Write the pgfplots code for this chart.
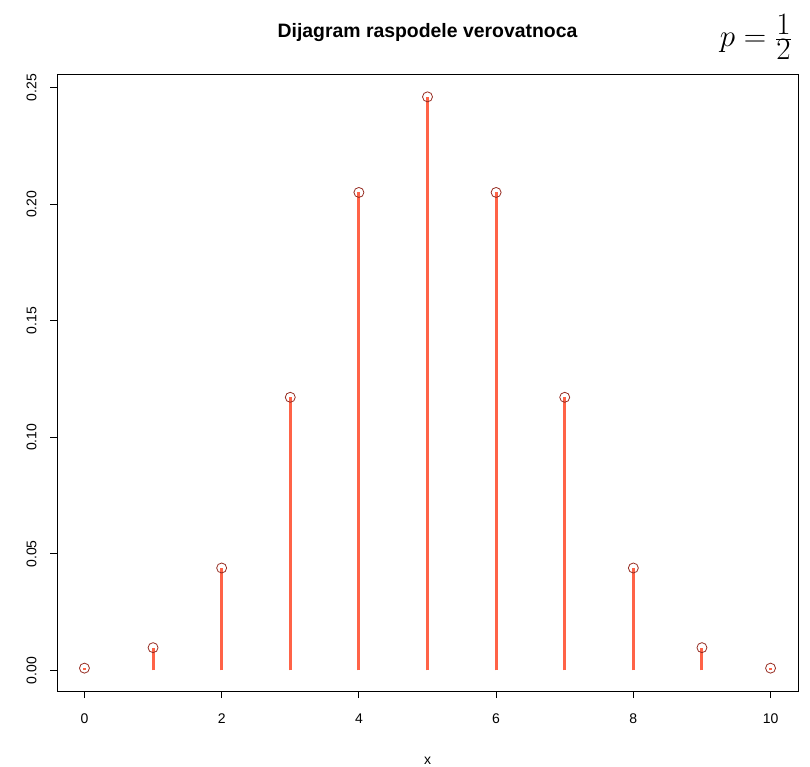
\documentclass[border=0pt]{standalone}
\usepackage{pgfplots}
\pgfplotsset{compat=1.18}
\usepackage{fontspec}
\setmainfont{Liberation Sans}
\definecolor{stemred}{RGB}{255,99,71}
\definecolor{pointred}{RGB}{150,45,35}

% Binomial distribution, n = 10, p = 1/2
\pgfplotstableread{
k   p
0   0.0009765625
1   0.009765625
2   0.0439453125
3   0.1171875
4   0.205078125
5   0.24609375
6   0.205078125
7   0.1171875
8   0.0439453125
9   0.009765625
10  0.0009765625
}\binom

\begin{document}
\begin{tikzpicture}[x=1pt,y=1pt]
\path[use as bounding box] (0,0) rectangle (810,766);
\begin{axis}[
  at={(57pt,75pt)}, anchor=south west,
  scale only axis, width=741pt, height=617pt,
  xmin=-0.4, xmax=10.4,
  ymin=-0.00883, ymax=0.2559,
  axis line style={black, line width=0.9pt},
  tick style={black, line width=0.9pt},
  tick align=outside, major tick length=7pt,
  xtick={0,2,...,10},
  ytick={0,0.05,...,0.25},
  xtick pos=bottom, ytick pos=left,
  font=\fontsize{14}{16}\selectfont,
  /pgf/number format/assume math mode=true,
  yticklabel style={rotate=90, anchor=south, /pgf/number format/fixed, /pgf/number format/zerofill, /pgf/number format/precision=2},
  xticklabel shift=12pt,
  yticklabel shift=10pt,
  scaled y ticks=false,
  title={Dijagram raspodele verovatnoca},
  title style={font=\fontsize{19.4}{22}\selectfont\bfseries, at={(axis description cs:0.5,1)}, anchor=base, yshift=30pt},
  xlabel={x},
  xlabel style={font=\fontsize{14}{16}\selectfont, at={(axis description cs:0.5,0)}, anchor=base, yshift=-73pt},
]
\addplot[ycomb, stemred, line width=3pt] table[x=k, y=p] {\binom};
\addplot[only marks, mark=o, mark size=5pt, mark options={pointred, line width=0.8pt}] table[x=k, y=p] {\binom};
\end{axis}
\node[font=\fontsize{24.88}{28}\selectfont, scale=1.25, inner sep=0pt] at (756,729) {$p=\frac{\textstyle 1}{\textstyle 2}$};
\end{tikzpicture}
\end{document}
